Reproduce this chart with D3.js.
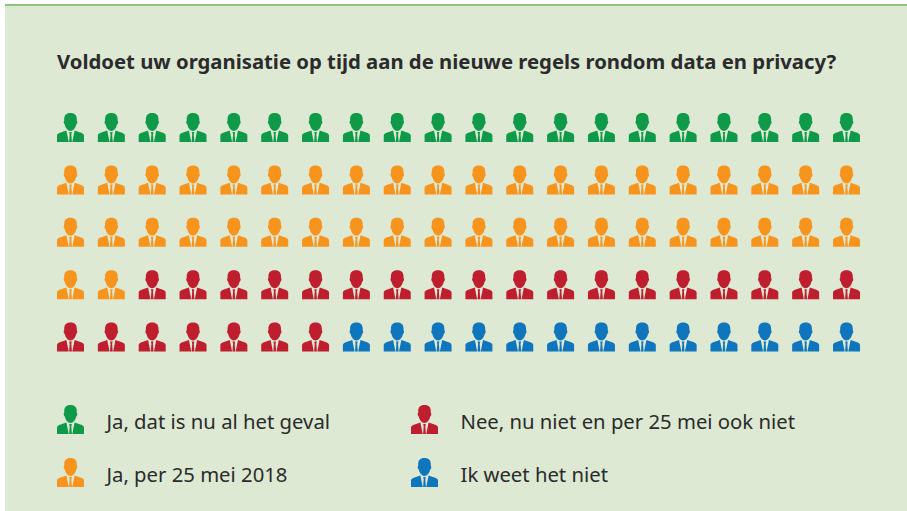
<!DOCTYPE html>
<html>
<head>
<meta charset="utf-8">
<script src="https://cdn.jsdelivr.net/npm/d3@7"></script>
<style>
    html, body { margin: 0; padding: 0; background: #fff; }
    text { font-family: "Noto Sans", sans-serif; fill: #2b2b2b; }
    .title { font-size: 20.3px; font-weight: 700; }
    .legend-label { font-size: 20.3px; }
</style>
</head>
<body>
<div id="chart"></div>
<script>
var title = 'Voldoet uw organisatie op tijd aan de nieuwe regels rondom data en privacy?';
var categories = ['Ja, dat is nu al het geval', 'Ja, per 25 mei 2018', 'Nee, nu niet en per 25 mei ook niet', 'Ik weet het niet'];
var counts = [20, 42, 25, 13];
var colors = ['#0f9a4a', '#f7941d', '#bf1e2e', '#0f75bc'];
var columnsPerRow = 20;
var rowsTotal = 5;

var width = 907, height = 511;

var svg = d3.select('#chart')
    .append('svg')
    .attr('width', width)
    .attr('height', height)
    .style('display', 'block');

// panel with the green line on top
svg.append('rect').attr('x', 5).attr('y', 5).attr('width', width - 5).attr('height', height - 5).attr('fill', '#dde9d3');
svg.append('rect').attr('x', 5).attr('y', 4).attr('width', width - 5).attr('height', 2).attr('fill', '#8fc57a');

var personPath =
    // head
    'M13.5 0C18 0 19.8 2.6 19.8 6C19.8 6.6 19.8 7.2 19.7 7.8C20.4 8 20.4 9.4 20.1 10.3C19.9 11 19.6 11.4 19.2 11.5C18.6 14.8 16.2 18 13.5 18C10.8 18 8.4 14.8 7.8 11.5C7.4 11.4 7.1 11 6.9 10.3C6.6 9.4 6.6 8 7.3 7.8C7.2 7.2 7.2 6.6 7.2 6C7.2 2.6 9 0 13.5 0Z' +
    // left of the jacket
    'M0 29V22.4C0 20.8 1.6 20 3.6 19.4L9.4 17.4L11.7 29Z' +
    // right of the jacket
    'M27 29V22.4C27 20.8 25.4 20 23.4 19.4L17.6 17.4L15.3 29Z' +
    // tie
    'M12.2 19H14.8L14.3 21.4L14.9 29H12.1L12.7 21.4Z';

var defs = svg.append('defs');
defs.append('path').attr('id', 'person').attr('d', personPath);

// one entry per person, filled row by row
var people = [];
counts.forEach(function (count, c) {
    d3.range(count).forEach(function () {
        people.push(c);
    });
});

var x = d3.scaleLinear().domain([0, columnsPerRow - 1]).range([57, 833]);
var y = d3.scaleLinear().domain([0, rowsTotal - 1]).range([113, 322.5]);

svg.append('g')
    .selectAll('use')
    .data(people)
    .enter()
    .append('use')
    .attr('href', '#person')
    .attr('fill', function (d) { return colors[d]; })
    .attr('x', function (d, i) { return x(i % columnsPerRow); })
    .attr('y', function (d, i) { return y(Math.floor(i / columnsPerRow)); });

svg.append('text')
    .attr('class', 'title')
    .attr('x', 57)
    .attr('y', 68.5)
    .text(title);

// legend: two columns of two
var legendX = d3.scaleOrdinal().domain([0, 1]).range([57, 411]);
var legendY = d3.scaleOrdinal().domain([0, 1]).range([405, 458]);

var legend = svg.append('g')
    .selectAll('g')
    .data(categories)
    .enter()
    .append('g')
    .attr('transform', function (d, i) {
        return 'translate(' + legendX(i >> 1) + ',' + legendY(i % 2) + ')';
    });

legend.append('use')
    .attr('href', '#person')
    .attr('fill', function (d, i) { return colors[i]; });

legend.append('text')
    .attr('class', 'legend-label')
    .attr('x', 49.5)
    .attr('y', 24)
    .text(function (d) { return d; });
</script>
</body>
</html>
